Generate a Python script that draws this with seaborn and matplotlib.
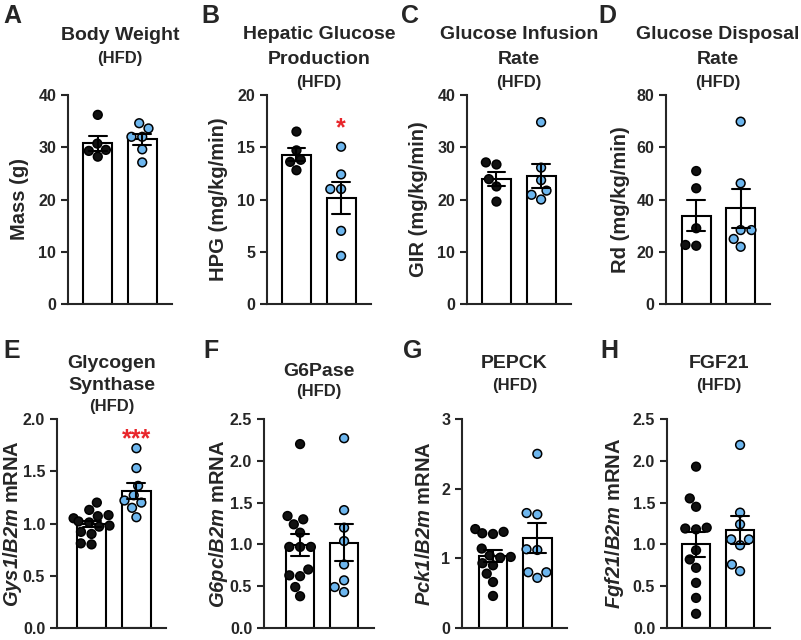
import pandas as pd
import seaborn as sns
import matplotlib.pyplot as plt
from matplotlib.ticker import FormatStrFormatter

# groups: black dots = first group, blue dots = second group
groups = ['Group 1', 'Group 2']

# values
bw_1 = [30.7, 36.2, 28.2, 29.5, 29.3]
bw_2 = [33.6, 34.6, 32.0, 32.0, 29.6, 27.1]
hpg_1 = [16.5, 14.7, 13.8, 12.8, 13.6]
hpg_2 = [15.05, 12.4, 11.0, 11.0, 7.0, 4.6]
gir_1 = [27.1, 26.7, 23.9, 22.5, 19.6]
gir_2 = [34.8, 26.1, 23.7, 21.7, 20.9, 20.0]
rd_1 = [50.9, 44.3, 29.0, 22.3, 22.6]
rd_2 = [69.8, 46.2, 28.3, 28.3, 24.9, 21.9]
gys1_1 = [1.20, 1.13, 1.08, 1.07, 1.05, 1.02, 1.01, 0.98, 0.97, 0.92, 0.90, 0.81, 0.80]
gys1_2 = [1.72, 1.53, 1.36, 1.27, 1.22, 1.20, 1.15, 1.06]
g6pc_1 = [2.20, 1.34, 1.30, 1.24, 1.14, 0.97, 0.97, 0.97, 0.70, 0.63, 0.62, 0.49, 0.38]
g6pc_2 = [2.27, 1.41, 1.20, 1.04, 0.76, 0.57, 0.49, 0.43]
pck1_1 = [1.42, 1.38, 1.36, 1.35, 1.14, 1.04, 1.02, 1.01, 0.93, 0.90, 0.78, 0.66, 0.46]
pck1_2 = [2.50, 1.65, 1.63, 1.13, 1.12, 0.72, 0.80, 0.80]
fgf21_1 = [1.93, 1.55, 1.45, 1.20, 1.19, 1.18, 0.93, 0.82, 0.72, 0.54, 0.36, 0.17]
fgf21_2 = [2.19, 1.38, 1.24, 1.06, 1.06, 0.99, 0.76, 0.68]

series = [(bw_1, bw_2), (hpg_1, hpg_2), (gir_1, gir_2), (rd_1, rd_2),
          (gys1_1, gys1_2), (g6pc_1, g6pc_2), (pck1_1, pck1_2), (fgf21_1, fgf21_2)]

letters = ['A', 'B', 'C', 'D', 'E', 'F', 'G', 'H']
titles = [['Body Weight'], ['Hepatic Glucose', 'Production'],
          ['Glucose Infusion', 'Rate'], ['Glucose Disposal', 'Rate'],
          ['Glycogen', 'Synthase'], ['G6Pase'], ['PEPCK'], ['FGF21']]
ylabels = ['Mass (g)', 'HPG (mg/kg/min)', 'GIR (mg/kg/min)', 'Rd (mg/kg/min)',
           r'$\mathit{Gys1}$/$\mathit{B2m}$ mRNA', r'$\mathit{G6pc}$/$\mathit{B2m}$ mRNA',
           r'$\mathit{Pck1}$/$\mathit{B2m}$ mRNA', r'$\mathit{Fgf21}$/$\mathit{B2m}$ mRNA']
yticks = [[0, 10, 20, 30, 40], [0, 5, 10, 15, 20], [0, 10, 20, 30, 40],
          [0, 20, 40, 60, 80], [0, 0.5, 1.0, 1.5, 2.0], [0, 0.5, 1.0, 1.5, 2.0, 2.5],
          [0, 1, 2, 3], [0, 0.5, 1.0, 1.5, 2.0, 2.5]]
sig_marks = {1: ('*', 16.8), 4: ('***', 1.81)}

# layout in pixels (figure 801 x 640)
W, H = 801, 640
boxes = [(68, 95, 172, 304), (267, 95, 371, 304), (467, 95, 571, 304), (666, 95, 770, 304),
         (57, 419, 166, 628), (264, 419, 374, 628), (462, 419, 567, 628), (667, 419, 770, 628)]
xlims = [(-0.67, 1.67), (-0.66, 1.67), (-0.66, 1.67), (-0.68, 1.66),
         (-0.77, 1.66), (-0.82, 1.68), (-0.70, 1.67), (-0.66, 1.68)]
ylabel_x = [20, 218, 418, 620, 13, 218, 425, 615]
letter_pos = [(3, 23), (201, 23), (401, 23), (598, 23), (3, 358), (203, 358), (403, 358), (600, 358)]
title_base = [[40], [39, 64], [39, 64], [39, 64], [368, 390], [376], [368], [368]]
hfd_base = [63, 87, 87, 87, 411, 396, 390, 390]

black = '#111111'
blue = '#6DB6EE'
red = '#E8262B'

sns.set_theme(style='ticks')
plt.rcParams['font.family'] = ['Liberation Sans', 'DejaVu Sans']
plt.rcParams['font.weight'] = 'bold'
plt.rcParams['mathtext.fontset'] = 'custom'
plt.rcParams['mathtext.it'] = 'Liberation Sans:italic:bold'
plt.rcParams['mathtext.rm'] = 'Liberation Sans:italic:bold'
plt.rcParams['axes.linewidth'] = 1.5

fig = plt.figure(figsize=(W / 100, H / 100), dpi=100)

for i, (a, b) in enumerate(series):
    l, t, r, bt = boxes[i]
    ax = fig.add_axes([l / W, 1 - bt / H, (r - l) / W, (bt - t) / H])
    df = pd.DataFrame({'group': [groups[0]] * len(a) + [groups[1]] * len(b),
                       'value': a + b})
    sns.barplot(data=df, x='group', y='value', order=groups, color='white',
                edgecolor='black', linewidth=1.5, width=0.65, saturation=1,
                errorbar='se', capsize=0.4,
                err_kws={'color': 'black', 'linewidth': 1.5, 'zorder': 5}, ax=ax)
    sns.swarmplot(data=df, x='group', y='value', order=groups, hue='group',
                  hue_order=groups, palette=[black, blue], size=6.3,
                  edgecolor='black', linewidth=1.1, legend=False, ax=ax)
    ax.set_xlim(*xlims[i])
    ax.set_ylim(0, yticks[i][-1])
    ax.set_yticks(yticks[i])
    if i in (4, 5, 7):
        ax.yaxis.set_major_formatter(FormatStrFormatter('%.1f'))
    ax.set_xticks([])
    ax.set_xlabel('')
    ax.set_ylabel(ylabels[i], fontsize=14.5, fontweight='bold', va='center')
    ax.yaxis.set_label_coords((ylabel_x[i] - l) / (r - l), 0.5)
    ax.tick_params(axis='y', labelsize=11.5, width=1.5, length=5, direction='out')
    for lab in ax.get_yticklabels():
        lab.set_fontweight('bold')
    sns.despine(ax=ax)
    if i in sig_marks:
        txt, yv = sig_marks[i]
        ax.text(1, yv, txt, color=red, fontsize=18, fontweight='bold',
                ha='center', va='center')

    cx = (l + r) / 2 / W
    for line, yb in zip(titles[i], title_base[i]):
        fig.text(cx, 1 - yb / H, line, fontsize=14, fontweight='bold',
                 ha='center', va='baseline')
    fig.text(cx, 1 - hfd_base[i] / H, '(HFD)', fontsize=12, fontweight='bold',
             ha='center', va='baseline')
    lx, ly = letter_pos[i]
    fig.text(lx / W, 1 - ly / H, letters[i], fontsize=18, fontweight='bold',
             ha='left', va='baseline')

fig.savefig('out.png', dpi=100)
